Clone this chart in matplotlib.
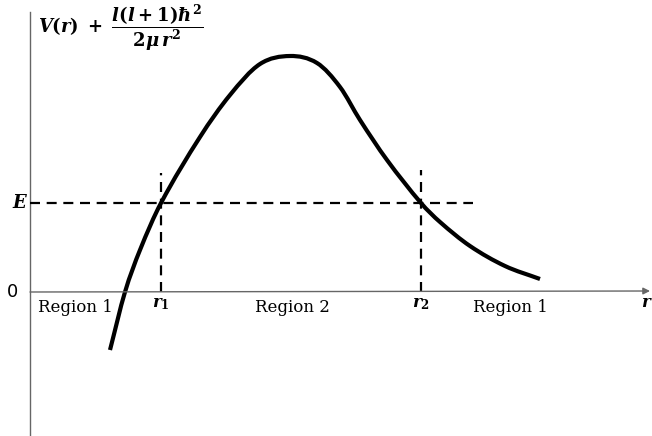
import matplotlib
matplotlib.use("Agg")
import matplotlib.pyplot as plt
from matplotlib.path import Path
from matplotlib.patches import PathPatch

# Data (r in arbitrary units, V measured from r-axis)
r_curve = [110, 125, 140, 161, 200, 230, 260, 290, 317, 340, 360, 387,
           421, 440, 470, 505, 540]
v_curve = [-58, 0, 42, 89, 155, 197, 228, 236, 229, 205, 172, 132,
           89, 70, 46, 26, 13]
E = 89
r1 = 161
r2 = 421
region_labels = ["Region 1", "Region 2", "Region 1"]
region_pos = [75, 292, 510]

plt.rcParams['mathtext.fontset'] = 'custom'
plt.rcParams['mathtext.rm'] = 'DejaVu Serif:bold'
plt.rcParams['mathtext.it'] = 'DejaVu Serif:italic:bold'
plt.rcParams['mathtext.bf'] = 'DejaVu Serif:bold'

fig = plt.figure(figsize=(6.52, 4.36), dpi=100)
ax = fig.add_axes([0, 0, 1, 1])
ax.set_xlim(0, 652)
ax.set_ylim(-144, 292)
ax.axis('off')

# axes
ax.plot([30, 30], [-143, 280], color='#666666', lw=1.0)
ax.annotate('', xy=(650, 1), xytext=(30, 0),
            arrowprops=dict(arrowstyle='-|>', color='#666666', lw=1.0,
                            mutation_scale=10, shrinkA=0, shrinkB=0))

# dashed lines
dash = (0, (4.5, 3))
ax.plot([30, 473], [E, E], color='black', lw=1.6, linestyle=dash)
ax.plot([r1, r1], [0, E + 30], color='black', lw=1.6, linestyle=dash)
ax.plot([r2, r2], [0, E + 33], color='black', lw=1.6, linestyle=dash)

# smooth curve through the read points (cubic Hermite in r, as Bezier path)
n = len(r_curve)
slopes = []
for i in range(n):
    a = max(i - 1, 0)
    b = min(i + 1, n - 1)
    slopes.append((v_curve[b] - v_curve[a]) / (r_curve[b] - r_curve[a]))
verts = [(r_curve[0], v_curve[0])]
codes = [Path.MOVETO]
for i in range(n - 1):
    h = r_curve[i + 1] - r_curve[i]
    c1 = (r_curve[i] + h / 3, v_curve[i] + slopes[i] * h / 3)
    c2 = (r_curve[i + 1] - h / 3, v_curve[i + 1] - slopes[i + 1] * h / 3)
    verts += [c1, c2, (r_curve[i + 1], v_curve[i + 1])]
    codes += [Path.CURVE4] * 3
ax.add_patch(PathPatch(Path(verts, codes), facecolor='none', edgecolor='black',
                       lw=3.0, capstyle='butt'))

# texts
ax.text(20, E, r'$E$', fontsize=13, ha='center', va='center')
ax.text(13, 0, '0', fontsize=13, ha='center', va='center', family='DejaVu Sans')
for lab, x in zip(region_labels, region_pos):
    ax.text(x, -15, lab, fontsize=12, ha='center', va='center', family='DejaVu Serif')
ax.text(r1, -11, r'$r_1$', fontsize=12, ha='center', va='center')
ax.text(r2, -11, r'$r_2$', fontsize=12, ha='center', va='center')
ax.text(641, -10, r'$r$', fontsize=12, ha='left', va='center')
ax.text(38, 264, r'$V(r)\;+\;\dfrac{l(l+1)\hbar^2}{2\mu\, r^2}$', fontsize=13,
        ha='left', va='center')

fig.savefig('out.png', dpi=100)
